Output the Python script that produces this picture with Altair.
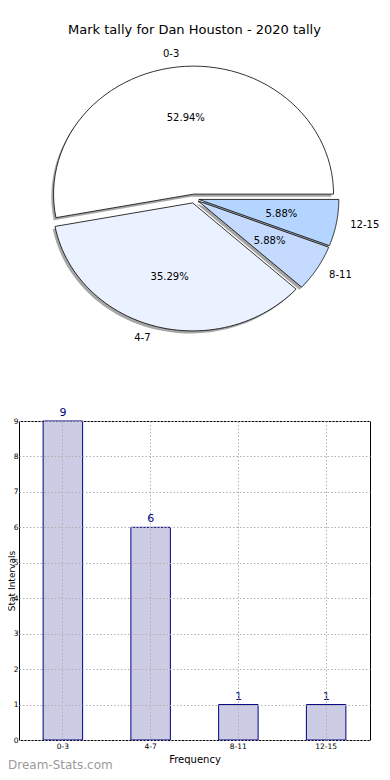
import altair as alt
import pandas as pd

# ---------------- data ----------------
categories = ["0-3", "4-7", "8-11", "12-15"]
counts = [9, 6, 1, 1]
slice_colors = ["#FFFFFF", "#EBF2FF", "#C4DAFF", "#B3D5FF"]
y_ticks = [0, 1, 2, 3, 4, 5, 6, 7, 8, 9]
title_text = ["Mark tally for Dan Houston - 2020 tally"]
x_title = "Frequency"
y_title = "Stat Intervals"
watermark = ["Dream-Stats.com"]

FONT = "DejaVu Sans"
EXPLODE = 0.035
NPTS = 60

data = pd.DataFrame({
    "cat": categories,
    "n": counts,
    "k": list(range(len(categories))),
    "col": slice_colors,
})

# pie scales (ellipse: wider than tall, as in the reference)
px_scale = alt.Scale(domain=[-1, 1], range=[35, 315])
py_scale = alt.Scale(domain=[-1, 1], range=[-94.4, -350.4])

pie_base = (
    alt.Chart(data)
    .transform_window(cum="sum(n)", sort=[alt.SortField("k")], frame=[None, 0])
    .transform_joinaggregate(total="sum(n)")
    .transform_calculate(
        a0="2*PI*(datum.cum - datum.n)/datum.total",
        a1="2*PI*datum.cum/datum.total",
    )
    .transform_calculate(am="(datum.a0 + datum.a1)/2")
    .transform_calculate(
        ex=f"{EXPLODE}*cos(datum.am)",
        ey=f"{EXPLODE}*sin(datum.am)",
    )
)

poly = (
    pie_base
    .transform_calculate(pts=f"sequence(0, {NPTS + 2})")
    .transform_flatten(["pts"], as_=["i"])
    .transform_calculate(
        rr=f"(datum.i == 0 || datum.i == {NPTS + 1}) ? 0 : 1",
        ang=f"datum.a0 + (datum.a1 - datum.a0) * clamp(datum.i - 1, 0, {NPTS - 1}) / {NPTS - 1}",
    )
    .transform_calculate(
        px="datum.ex + datum.rr*cos(datum.ang)",
        py="datum.ey + datum.rr*sin(datum.ang)",
    )
)

shadow = (
    poly.transform_calculate(sx="datum.px - 0.016", sy="datum.py - 0.02")
    .mark_line(fill="#4d4d4d", fillOpacity=0.5, strokeOpacity=0)
    .encode(
        x=alt.X("sx:Q", scale=px_scale, axis=None),
        y=alt.Y("sy:Q", scale=py_scale, axis=None),
        order="i:Q",
        detail="cat:N",
    )
)

slices = (
    poly.mark_line(stroke="black", strokeWidth=0.8)
    .encode(
        x=alt.X("px:Q", scale=px_scale, axis=None),
        y=alt.Y("py:Q", scale=py_scale, axis=None),
        order="i:Q",
        detail="cat:N",
        fill=alt.Fill("col:N", scale=None),
    )
)

pct = (
    pie_base.transform_calculate(
        tx="datum.ex + 0.6*cos(datum.am)",
        ty="datum.ey + 0.6*sin(datum.am)",
        lbl="format(100*datum.n/datum.total, '.2f') + '%'",
    )
    .mark_text(font=FONT, fontSize=10, color="black", baseline="middle")
    .encode(
        x=alt.X("tx:Q", scale=px_scale, axis=None),
        y=alt.Y("ty:Q", scale=py_scale, axis=None),
        text="lbl:N",
    )
)

labs = pie_base.transform_calculate(
    tx="datum.ex + 1.1*cos(datum.am)",
    ty="datum.ey + 1.1*sin(datum.am)",
    c="cos(datum.am)",
)
lab_enc = dict(
    x=alt.X("tx:Q", scale=px_scale, axis=None),
    y=alt.Y("ty:Q", scale=py_scale, axis=None),
    text="cat:N",
)
lab_r = labs.transform_filter("datum.c > 0").mark_text(
    font=FONT, fontSize=10, color="black", align="left", baseline="middle"
).encode(**lab_enc)
lab_l = labs.transform_filter("datum.c <= 0").mark_text(
    font=FONT, fontSize=10, color="black", align="right", baseline="middle"
).encode(**lab_enc)

pie = alt.layer(shadow, slices, pct, lab_l, lab_r)

# ---------------- bar chart ----------------
grid_style = dict(grid=True, gridColor="#b0b0b0", gridDash=[1.5, 2], gridWidth=1)

bar_base = alt.Chart(data).encode(
    x=alt.X(
        "cat:N",
        sort=categories,
        scale=alt.Scale(paddingInner=0.55, paddingOuter=0.275),
        axis=alt.Axis(
            title=x_title, labelAngle=0, labelFontSize=7.5, labelFont=FONT,
            labelColor="black", labelPadding=2, tickSize=0, domain=False,
            titleFont=FONT, titleFontSize=10, titleFontWeight="normal",
            titleColor="black", titlePadding=5, zindex=1, **grid_style,
        ),
    ),
    y=alt.Y(
        "n:Q",
        scale=alt.Scale(domain=[0, 9], nice=False),
        axis=alt.Axis(
            title=y_title, values=y_ticks, labelFontSize=7.5, labelFont=FONT,
            labelColor="black", labelPadding=1, tickSize=0, domain=False,
            titleFont=FONT, titleFontSize=9, titleFontWeight="normal",
            titleColor="black", titleX=-4.2, titleY=159.5, titleBaseline="alphabetic",
            zindex=1, **grid_style,
        ),
    ),
)

bars = bar_base.mark_bar(fill="#CCCCE5", stroke="#000080", strokeWidth=1)
bar_txt = bar_base.mark_text(
    font=FONT, fontSize=11, color="#000080", baseline="alphabetic", dy=-5
).encode(text="n:Q")

wm = alt.Chart(pd.DataFrame({"t": watermark})).mark_text(
    font=FONT, fontSize=12, color="#9a9a9a", align="left", baseline="middle"
).encode(x=alt.value(-11), y=alt.value(344), text="t:N")

ttl = alt.Chart(pd.DataFrame({"t": title_text})).mark_text(
    font=FONT, fontSize=13, color="black", align="center", baseline="alphabetic"
).encode(x=alt.value(175.5), y=alt.value(-387), text="t:N")

bar_chart = alt.layer(bars, bar_txt, wm, ttl)

chart = (
    alt.layer(bar_chart, pie)
    .resolve_scale(x="independent", y="independent")
    .properties(
        width=351,
        height=319,
        autosize=alt.AutoSizeParams(type="none"),
        padding={"left": 11, "top": 413, "right": 12, "bottom": 32},
    )
    .configure_view(stroke="black", strokeWidth=1)
)

chart.save("out.html", embed_options={"renderer": "svg", "actions": False})
